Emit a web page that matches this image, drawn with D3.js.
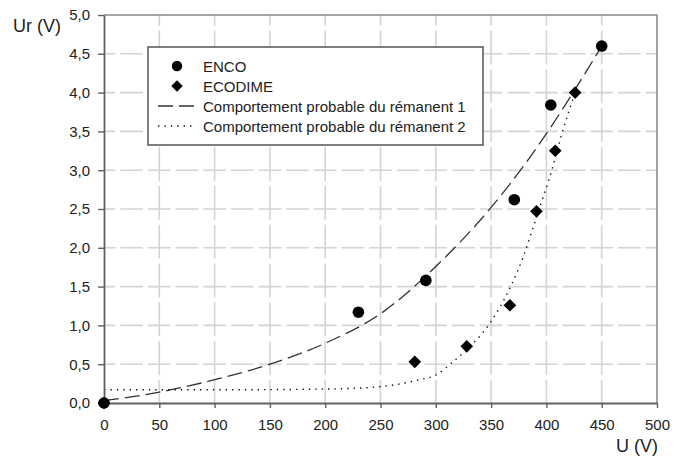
<!DOCTYPE html>
<html>
<head>
<meta charset="utf-8">
<script src="https://cdn.jsdelivr.net/npm/d3@7"></script>
<style>
  body { margin: 0; background: #fff; }
  text { font-family: "Liberation Sans", Arial, sans-serif; fill: #222; }
</style>
</head>
<body>
<svg id="chart" width="686" height="459"></svg>
<script>
// measured points
var encoU = [0, 230, 291, 371, 404, 450];
var encoUr = [0, 1.17, 1.58, 2.62, 3.84, 4.6];
var ecodimeU = [0, 281, 328, 367, 391, 408, 426];
var ecodimeUr = [0, 0.53, 0.73, 1.26, 2.47, 3.25, 4.0];

// "comportement probable" curves
var curve1U = [0, 50, 100, 150, 200, 250, 300, 350, 400, 425, 450];
var curve1Ur = [0.03, 0.14, 0.30, 0.50, 0.77, 1.15, 1.76, 2.52, 3.47, 4.02, 4.6];
var curve2U = [0, 100, 200, 240, 265, 285, 300, 313, 325, 349, 367, 379, 388, 397, 403, 415, 426];
var curve2Ur = [0.17, 0.17, 0.18, 0.2, 0.24, 0.3, 0.36, 0.5, 0.65, 1.03, 1.48, 1.88, 2.26, 2.65, 2.91, 3.52, 4.0];

var xTicks = [0, 50, 100, 150, 200, 250, 300, 350, 400, 450, 500];
var yTicks = [0, 0.5, 1, 1.5, 2, 2.5, 3, 3.5, 4, 4.5, 5];
var legendLabels = ["ENCO", "ECODIME", "Comportement probable du rémanent 1", "Comportement probable du rémanent 2"];

var svg = d3.select("#chart");
var pLeft = 104, pRight = 657, pTop = 15, pBottom = 403;

var x = d3.scaleLinear().domain([0, 500]).range([pLeft, pRight]);
var y = d3.scaleLinear().domain([0, 5]).range([pBottom, pTop]);

var fr = d3.formatLocale({decimal: ",", thousands: " ", grouping: [3], currency: ["", " €"]});
var fmt1 = fr.format(".1f");

var cellW = x(50) - x(0), cellH = y(0) - y(0.5);

// grid
var grid = svg.append("g").attr("class", "grid")
  .attr("stroke", "#d4d4d4").attr("stroke-width", 1.6).attr("fill", "none");
grid.selectAll(".vgrid")
  .data(xTicks.slice(1, -1))
  .enter().append("line")
    .attr("x1", function(d) { return x(d); })
    .attr("x2", function(d) { return x(d); })
    .attr("y1", pBottom).attr("y2", pTop)
    .attr("stroke-dasharray", (cellH - 5) + ",5")
    .attr("stroke-dashoffset", -(cellH * 0.66 + 2.5));
grid.selectAll(".hgrid")
  .data(yTicks.slice(1, -1))
  .enter().append("line")
    .attr("y1", function(d) { return y(d); })
    .attr("y2", function(d) { return y(d); })
    .attr("x1", pLeft).attr("x2", pRight)
    .attr("stroke-dasharray", (cellW / 2 - 5) + ",5")
    .attr("stroke-dashoffset", -(cellW / 4 + 2.5));

// frame top / right
svg.append("path")
  .attr("d", "M" + pLeft + "," + pTop + "H" + pRight + "V" + pBottom)
  .attr("fill", "none").attr("stroke", "#8a8a8a").attr("stroke-width", 1.6);

// curves
var line = d3.line()
  .x(function(d) { return x(d[0]); })
  .y(function(d) { return y(d[1]); })
  .curve(d3.curveMonotoneX);

svg.append("path")
  .datum(d3.zip(curve1U, curve1Ur))
  .attr("d", line)
  .attr("fill", "none").attr("stroke", "#333").attr("stroke-width", 1.3)
  .attr("stroke-dasharray", "15,6");

svg.append("path")
  .datum(d3.zip(curve2U, curve2Ur))
  .attr("d", line)
  .attr("fill", "none").attr("stroke", "#111").attr("stroke-width", 1.4)
  .attr("stroke-dasharray", "1.4,5");

// axes
var yAxis = d3.axisLeft(y).tickValues(yTicks).tickFormat(fmt1)
  .tickSizeInner(6).tickSizeOuter(0).tickPadding(8);
var xAxis = d3.axisBottom(x).tickValues(xTicks).tickFormat(d3.format("d"))
  .tickSizeInner(5).tickSizeOuter(0).tickPadding(11);

svg.append("g").attr("transform", "translate(" + pLeft + ",0)").call(yAxis);
svg.append("g").attr("transform", "translate(0," + pBottom + ")").call(xAxis);

svg.selectAll(".domain").attr("stroke", "#606060").attr("stroke-width", 1.8);
svg.selectAll(".tick line").attr("stroke", "#606060").attr("stroke-width", 1.4);
svg.selectAll(".tick text").style("font-size", "15px").attr("fill", "#222");

// markers
var diamond = d3.symbol().type(d3.symbolSquare).size(80);
svg.append("g").selectAll("path")
  .data(d3.zip(ecodimeU, ecodimeUr))
  .enter().append("path")
    .attr("d", diamond)
    .attr("transform", function(d) { return "translate(" + x(d[0]) + "," + y(d[1]) + ") rotate(45)"; })
    .attr("fill", "#000");

svg.append("g").selectAll("circle")
  .data(d3.zip(encoU, encoUr))
  .enter().append("circle")
    .attr("cx", function(d) { return x(d[0]); })
    .attr("cy", function(d) { return y(d[1]); })
    .attr("r", 5.8)
    .attr("fill", "#000");

// axis titles
svg.append("text").attr("x", 13).attr("y", 32).style("font-size", "18px").text("Ur (V)");
svg.append("text").attr("x", 658).attr("y", 452).attr("text-anchor", "end")
  .style("font-size", "18px").text("U (V)");

// legend
var lg = svg.append("g").attr("transform", "translate(148,47)");
lg.append("rect").attr("width", 335).attr("height", 98)
  .attr("fill", "#fff").attr("stroke", "#555").attr("stroke-width", 1.5);

var rowY = function(i) { return 19 + i * 20; };
lg.append("circle").attr("cx", 29).attr("cy", rowY(0)).attr("r", 5.2).attr("fill", "#000");
lg.append("path").attr("d", d3.symbol().type(d3.symbolSquare).size(66))
  .attr("transform", "translate(29," + rowY(1) + ") rotate(45)").attr("fill", "#000");
lg.append("line").attr("x1", 10).attr("x2", 46).attr("y1", rowY(2)).attr("y2", rowY(2))
  .attr("stroke", "#333").attr("stroke-width", 1.3).attr("stroke-dasharray", "15,6");
lg.append("line").attr("x1", 10).attr("x2", 46).attr("y1", rowY(3)).attr("y2", rowY(3))
  .attr("stroke", "#111").attr("stroke-width", 1.4).attr("stroke-dasharray", "1.4,5");

lg.selectAll(".lgtext")
  .data(legendLabels)
  .enter().append("text")
    .attr("x", 55)
    .attr("y", function(d, i) { return rowY(i) + 5.5; })
    .style("font-size", "15px")
    .text(function(d) { return d; });
</script>
</body>
</html>
